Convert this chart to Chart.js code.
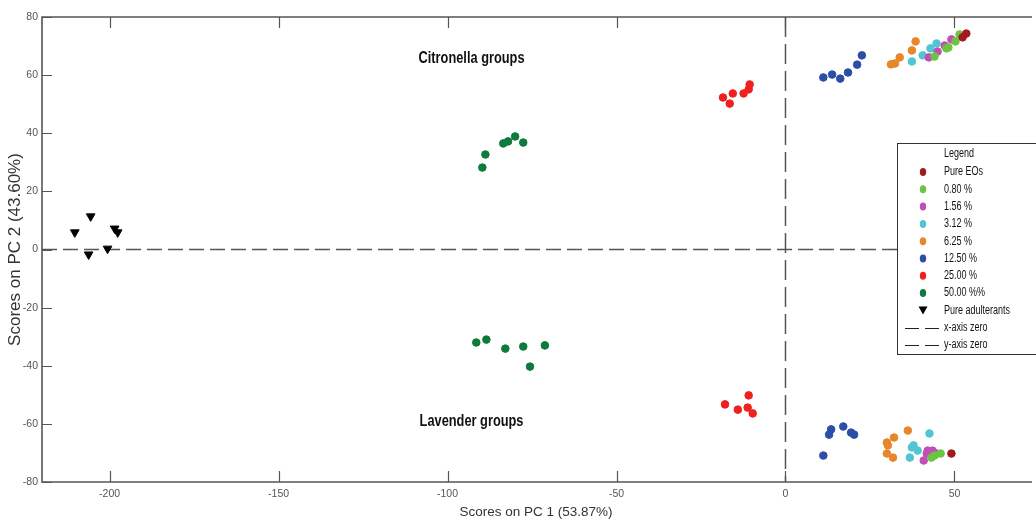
<!DOCTYPE html>
<html>
<head>
<meta charset="utf-8">
<script src="https://cdn.jsdelivr.net/npm/chart.js@4/dist/chart.umd.min.js"></script>
<style>
  html, body { margin: 0; padding: 0; background: #fff; }
</style>
</head>
<body>
<canvas id="chart" width="1036" height="523"></canvas>
<script>
// PCA scores (PC1, PC2) for each adulteration level
var groupNames = ['Pure EOs', '0.80 %', '1.56 %', '3.12 %', '6.25 %', '12.50 %', '25.00 %', '50.00 %%', 'Pure adulterants'];

var pureEOs = [[52.4, 73.0], [53.5, 74.3], [49.1, -70.2]];
var level080 = [[44.1, 66.4], [47.6, 69.2], [48.2, 69.5], [50.3, 71.6], [51.5, 74.0],
  [43.2, -71.6], [44.1, -70.9], [45.9, -70.2]];
var level156 = [[42.4, 66.1], [45.0, 68.1], [47.1, 70.2], [49.1, 72.3],
  [40.9, -72.6], [42.1, -69.2], [43.5, -69.2], [44.7, -70.2], [41.8, -70.2]];
var level312 = [[37.4, 64.7], [40.6, 66.8], [42.9, 69.2], [44.7, 70.9],
  [36.8, -71.6], [37.4, -68.1], [39.1, -69.2], [42.6, -63.3], [37.9, -67.4]];
var level625 = [[31.2, 63.7], [32.4, 64.0], [33.8, 66.1], [37.4, 68.5], [38.5, 71.6],
  [30.0, -66.4], [30.3, -67.4], [30.0, -70.2], [31.8, -71.6], [32.1, -64.7], [36.2, -62.3]];
var level1250 = [[11.2, 59.2], [13.8, 60.2], [16.2, 58.8], [18.5, 60.9], [21.2, 63.6], [22.6, 66.8],
  [11.2, -70.9], [12.9, -63.7], [13.5, -61.9], [17.1, -60.9], [19.4, -63.0], [20.3, -63.7]];
var level2500 = [[-18.5, 52.3], [-15.6, 53.7], [-16.5, 50.2], [-12.4, 53.7], [-10.9, 55.1], [-10.6, 56.8],
  [-17.9, -53.3], [-14.1, -55.1], [-11.2, -54.4], [-10.9, -50.2], [-9.7, -56.4]];
var level5000 = [[-89.7, 28.2], [-88.8, 32.7], [-83.5, 36.5], [-82.1, 37.2], [-80.0, 38.9], [-77.6, 36.8],
  [-91.5, -32.0], [-88.5, -31.0], [-82.9, -34.1], [-77.6, -33.4], [-75.6, -40.3], [-71.2, -33.0]];
var adulterants = [[-210.3, 5.9], [-205.6, 11.4], [-206.2, -1.7], [-200.6, 0.3], [-198.5, 7.2], [-197.6, 5.9]];

var groupScores = [pureEOs, level080, level156, level312, level625, level1250, level2500, level5000, adulterants];
var groupColors = ['#a11b1f', '#6cc443', '#c14fb5', '#50c5d4', '#e8862b', '#2c4ea6', '#ee2020', '#0e7a3b', '#000000'];

var xTicks = [-200, -150, -100, -50, 0, 50];
var yTicks = [-80, -60, -40, -20, 0, 20, 40, 60, 80];

var FONT = '"Liberation Sans", Arial, sans-serif';

var datasets = groupScores.map(function (pts, i) {
  var tri = groupNames[i] === 'Pure adulterants';
  return {
    label: groupNames[i],
    data: pts.map(function (p) { return { x: p[0], y: p[1] }; }),
    pointStyle: tri ? 'triangle' : 'circle',
    rotation: tri ? 180 : 0,
    pointRadius: tri ? 5 : 3.8,
    backgroundColor: groupColors[i],
    borderColor: groupColors[i],
    borderWidth: 1
  };
});

// text squeezed horizontally, like the condensed labels of the plot
function narrowText(ctx, text, x, y, sx) {
  ctx.save();
  ctx.translate(x, y);
  ctx.scale(sx, 1);
  ctx.fillText(text, 0, 0);
  ctx.restore();
}

// dashed zero lines, frame with inward ticks, group labels and the legend box
var pcaDecor = {
  id: 'pcaDecor',
  beforeDatasetsDraw: function (chart) {
    var ctx = chart.ctx, a = chart.chartArea;
    var x0 = chart.scales.x.getPixelForValue(0);
    var y0 = chart.scales.y.getPixelForValue(0);
    ctx.save();
    ctx.strokeStyle = '#555';
    ctx.lineWidth = 1.5;
    ctx.setLineDash([15, 6]);
    ctx.beginPath();
    ctx.moveTo(a.left, y0);
    ctx.lineTo(a.right, y0);
    ctx.stroke();
    ctx.setLineDash([20, 7]);
    ctx.beginPath();
    ctx.moveTo(x0, a.top);
    ctx.lineTo(x0, a.bottom);
    ctx.stroke();
    ctx.restore();
  },
  afterDraw: function (chart) {
    var ctx = chart.ctx, a = chart.chartArea;
    var xs = chart.scales.x, ys = chart.scales.y;
    ctx.save();

    // frame
    ctx.strokeStyle = '#555';
    ctx.lineWidth = 1.6;
    ctx.beginPath();
    ctx.moveTo(a.right + 2, a.top);
    ctx.lineTo(a.left, a.top);
    ctx.lineTo(a.left, a.bottom);
    ctx.lineTo(a.right + 2, a.bottom);
    ctx.stroke();

    // inward ticks
    ctx.lineWidth = 1.2;
    ctx.beginPath();
    xTicks.forEach(function (v) {
      var px = Math.round(xs.getPixelForValue(v)) + 0.5;
      ctx.moveTo(px, a.bottom);
      ctx.lineTo(px, a.bottom - 11);
      ctx.moveTo(px, a.top);
      ctx.lineTo(px, a.top + 11);
    });
    yTicks.forEach(function (v) {
      var py = Math.round(ys.getPixelForValue(v)) + 0.5;
      ctx.moveTo(a.left, py);
      ctx.lineTo(a.left + 10, py);
    });
    ctx.stroke();

    // cluster labels
    ctx.fillStyle = '#111';
    ctx.font = 'bold 16px ' + FONT;
    ctx.textAlign = 'center';
    ctx.textBaseline = 'middle';
    narrowText(ctx, 'Citronella groups', xs.getPixelForValue(-92.9), ys.getPixelForValue(65.7), 0.8);
    narrowText(ctx, 'Lavender groups', xs.getPixelForValue(-92.9), ys.getPixelForValue(-59.2), 0.8);

    // legend box
    var lx = 897, ly = 143, lb = 354;
    ctx.fillStyle = '#fff';
    ctx.fillRect(lx, ly, chart.width - lx + 5, lb - ly);
    ctx.strokeStyle = '#333';
    ctx.lineWidth = 1;
    ctx.strokeRect(lx + 0.5, ly + 0.5, chart.width - lx + 5, lb - ly);

    ctx.font = '12px ' + FONT;
    ctx.textAlign = 'left';
    ctx.fillStyle = '#111';
    narrowText(ctx, 'Legend', 944, 154, 0.75);
    var rowY = 172, step = 17.3;
    groupNames.forEach(function (name, i) {
      var y = rowY + i * step;
      ctx.fillStyle = groupColors[i];
      ctx.beginPath();
      if (name === 'Pure adulterants') {
        ctx.moveTo(918.5, y - 4);
        ctx.lineTo(927.5, y - 4);
        ctx.lineTo(923, y + 4);
        ctx.closePath();
      } else {
        ctx.ellipse(923, y, 3.2, 4, 0, 0, Math.PI * 2);
      }
      ctx.fill();
      ctx.fillStyle = '#111';
      narrowText(ctx, name, 944, y, 0.75);
    });
    ['x-axis zero', 'y-axis zero'].forEach(function (name, j) {
      var y = rowY + (groupNames.length + j) * step;
      ctx.strokeStyle = '#222';
      ctx.lineWidth = 1;
      ctx.setLineDash([14, 6]);
      ctx.beginPath();
      ctx.moveTo(905, Math.round(y) + 0.5);
      ctx.lineTo(939, Math.round(y) + 0.5);
      ctx.stroke();
      ctx.setLineDash([]);
      ctx.fillStyle = '#111';
      narrowText(ctx, name, 944, y, 0.75);
    });
    ctx.restore();
  }
};

var config = {
  type: 'scatter',
  data: { datasets: datasets },
  options: {
    responsive: false,
    animation: false,
    layout: { padding: { top: 17, right: 0, bottom: 0, left: 0 } },
    plugins: {
      legend: { display: false },
      tooltip: { enabled: false }
    },
    scales: {
      x: {
        type: 'linear',
        min: -220,
        max: 72.35,
        afterBuildTicks: function (scale) {
          scale.ticks = xTicks.map(function (v) { return { value: v }; });
        },
        afterFit: function (scale) { scale.height = 41; },
        grid: { display: false, drawTicks: false },
        border: { display: false },
        ticks: { color: '#555', padding: 6, font: { family: FONT, size: 10.5 } },
        title: {
          display: true,
          text: 'Scores on PC 1 (53.87%)',
          color: '#333',
          padding: { top: 0, bottom: 3 },
          font: { family: FONT, size: 13.5 }
        }
      },
      y: {
        type: 'linear',
        min: -80,
        max: 80,
        afterBuildTicks: function (scale) {
          scale.ticks = yTicks.map(function (v) { return { value: v }; });
        },
        afterFit: function (scale) { scale.width = 42; },
        grid: { display: false, drawTicks: false },
        border: { display: false },
        ticks: { color: '#555', padding: 4, font: { family: FONT, size: 10.5 } },
        title: {
          display: true,
          text: 'Scores on PC 2 (43.60%)',
          color: '#333',
          padding: { top: 5, bottom: 0 },
          font: { family: FONT, size: 17 }
        }
      }
    }
  },
  plugins: [pcaDecor]
};

window.onload = function () {
  var ctx = document.getElementById('chart').getContext('2d');
  window.pcaChart = new Chart(ctx, config);
};
</script>
</body>
</html>
